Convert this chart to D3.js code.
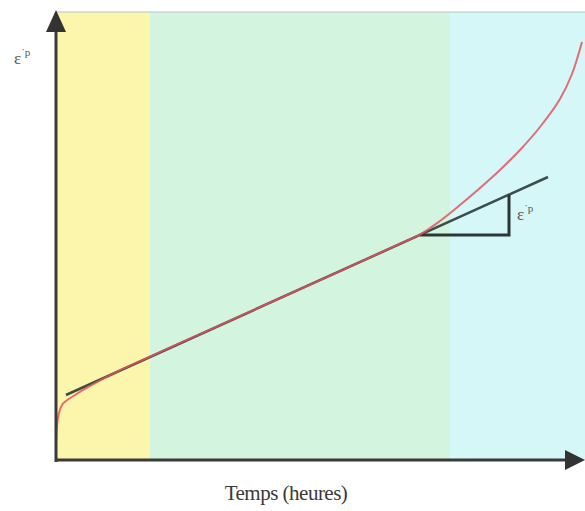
<!DOCTYPE html>
<html><head><meta charset="utf-8">
<script src="https://cdn.jsdelivr.net/npm/d3@7"></script>
<style>body{margin:0;background:#fff}svg{display:block}</style>
</head><body>
<script>
// Creep curve: time (arbitrary %) vs plastic strain (arbitrary %)
const curveTime   = [0, 0.19, 0.57, 1.15, 1.91, 3.63, 6.49, 10.31, 17.94, 27.48, 37.02, 46.56, 56.11, 65.65, 69.47, 73.28, 77.10, 80.92, 84.73, 88.55, 92.37, 96.18, 98.47, 100.38];
const curveStrain = [3.35, 7.81, 10.49, 12.28, 13.17, 14.51, 16.52, 18.95, 23.08, 28.10, 33.12, 38.15, 43.17, 48.30, 50.32, 53.35, 56.92, 60.71, 64.73, 69.20, 74.33, 80.58, 86.16, 93.30];
const tangentTime   = [1.91, 93.89];
const tangentStrain = [14.51, 63.17];
const triangleTime   = [69.47, 86.45, 86.45];
const triangleStrain = [50.22, 50.22, 59.2];
const stageNames  = ["primaire", "secondaire", "tertiaire"];
const stageStart  = [0, 17.9, 75.2];
const stageEnd    = [17.9, 75.2, 101];
const stageColors = ["#fcf6ac", "#d3f4df", "#d5f7f8"];

const W = 585, H = 511;
const x = d3.scaleLinear().domain([0, 100]).range([56, 580]);
const y = d3.scaleLinear().domain([0, 100]).range([460, 12]);

const svg = d3.select("body").append("svg").attr("width", W).attr("height", H);

svg.selectAll("rect.stage").data(stageNames).join("rect")
  .attr("class", "stage")
  .attr("x", (d, i) => x(stageStart[i]))
  .attr("width", (d, i) => Math.min(W, x(stageEnd[i])) - x(stageStart[i]))
  .attr("y", y(100)).attr("height", y(0) - y(100))
  .attr("fill", (d, i) => stageColors[i]);

svg.append("line").attr("x1", x(0)).attr("x2", W).attr("y1", y(100)).attr("y2", y(100))
  .attr("stroke", "#b8c4c4").attr("stroke-width", 1);

svg.append("path").attr("d", d3.line().x(d => x(d[0])).y(d => y(d[1]))(tangentTime.map((t, i) => [t, tangentStrain[i]])))
  .attr("fill", "none").attr("stroke", "#2c3838").attr("stroke-width", 2.5).attr("stroke-opacity", 0.9);

svg.append("path").attr("d", d3.line().x(d => x(d[0])).y(d => y(d[1]))(triangleTime.map((t, i) => [t, triangleStrain[i]])))
  .attr("fill", "none").attr("stroke", "#2c3838").attr("stroke-width", 3);

const ptsCurve = curveTime.map((t, i) => [t, curveStrain[i]]);
svg.append("path").attr("d", d3.line().x(d => x(d[0])).y(d => y(d[1])).curve(d3.curveCatmullRom)(ptsCurve))
  .attr("fill", "none").attr("stroke", "#e2545e").attr("stroke-width", 2).attr("stroke-opacity", 0.85);

// axes
svg.append("line").attr("x1", x(0)).attr("x2", x(0)).attr("y1", y(0) + 2).attr("y2", 28)
  .attr("stroke", "#3a3a3a").attr("stroke-width", 3);
svg.append("path").attr("d", `M${x(0)},10 L${x(0) - 10},32 L${x(0) + 10},32 Z`).attr("fill", "#333");
svg.append("line").attr("x1", x(0) - 1).attr("x2", 568).attr("y1", y(0)).attr("y2", y(0))
  .attr("stroke", "#3a3a3a").attr("stroke-width", 3);
svg.append("path").attr("d", `M585,${y(0)} L565,${y(0) - 10} L565,${y(0) + 10} Z`).attr("fill", "#333");

// labels
const yl = svg.append("text").attr("x", 14).attr("y", 64)
  .attr("font-family", "Liberation Serif, serif").attr("font-size", 17).attr("fill", "#555");
yl.append("tspan").text("ε");
yl.append("tspan").attr("dy", -8).attr("font-size", 11).text("˙p");
const sl = svg.append("text").attr("x", 517).attr("y", 220)
  .attr("font-family", "Liberation Serif, serif").attr("font-size", 17).attr("fill", "#555");
sl.append("tspan").text("ε");
sl.append("tspan").attr("dy", -8).attr("font-size", 11).text("˙p");

svg.append("text").attr("x", 286).attr("y", 500).attr("text-anchor", "middle")
  .attr("font-family", "Liberation Serif, serif").attr("font-size", 21).attr("fill", "#3a3a3a")
  .attr("letter-spacing", -0.5).text("Temps (heures)");
</script>
</body></html>
